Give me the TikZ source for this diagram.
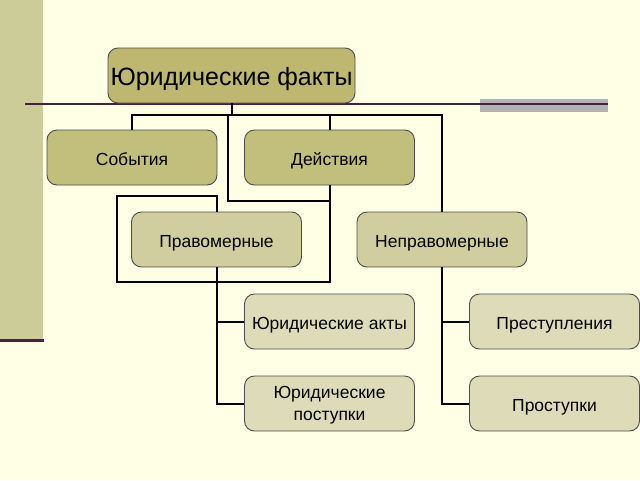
\documentclass[tikz,border=0pt]{standalone}
\usepackage{fontspec}
\setmainfont{Liberation Sans}
\definecolor{cream}{HTML}{FFFFE5}
\definecolor{sidebar}{HTML}{CCCC99}
\definecolor{plum}{HTML}{4A2040}
\definecolor{barGray}{HTML}{B3B3B6}
\definecolor{levelA}{HTML}{BDB76F}
\definecolor{levelB}{HTML}{C2BE7C}
\definecolor{levelC}{HTML}{D0CD9F}
\definecolor{levelD}{HTML}{DEDCB8}
\begin{document}
\begin{tikzpicture}[x=1pt, y=-1pt,
  box/.style={draw=black!70, line width=0.9pt, rounded corners=10pt, minimum width=170pt, minimum height=55pt, inner sep=2pt, align=center, font=\fontsize{17.5}{21.5}\selectfont},
  oneline/.style={text height=16.4pt, text depth=0pt},
  link/.style={line width=2pt, black}]

\useasboundingbox (0,0) rectangle (640,480);
\fill[cream] (0,0) rectangle (640,480);
\fill[sidebar] (0,0) rectangle (43,339);
\draw[plum, line width=3pt] (0,340) -- (44,340);
\fill[barGray] (480,99) rectangle (608,112);
\draw[plum, line width=1.3pt] (25,104) -- (608,104);

\begin{scope}
\node[box, fill=levelA, minimum width=247pt, font=\fontsize{25}{27}\selectfont, inner sep=1pt, text height=19.6pt, text depth=0pt] (facts) at (231.5,75.5) {Юридические факты};

\node[box, oneline, fill=levelB] (events) at (132,157.5) {События};
\node[box, oneline, fill=levelB] (actions) at (329.5,157.5) {Действия};

\node[box, oneline, fill=levelC] (lawful) at (216.5,239.5) {Правомерные};
\node[box, oneline, fill=levelC] (unlawful) at (442,239.5) {Неправомерные};

\node[box, oneline, fill=levelD] (acts) at (329.5,321.5) {Юридические акты};
\node[box, fill=levelD, text height=33pt, text depth=0pt] (deeds) at (329.5,403.5) {Юридические\\поступки};
\node[box, oneline, fill=levelD] (crimes) at (554.5,321.5) {Преступления};
\node[box, oneline, fill=levelD] (offences) at (554.5,403.5) {Проступки};

\coordinate (bus) at (231.5,115);
\coordinate (step) at (228,201);
\coordinate (loopBL) at (117,282);
\coordinate (loopTL) at (117,196);

\draw[link] (facts.south) -- (bus);
\draw[link] (events.north) |- (bus) -| (actions.north);
\draw[link] (bus) -| (unlawful.north);
\draw[link] (step |- bus) -- (step) -| (actions.south);
\draw[link] (actions.south) |- (loopBL) -- (loopTL) -| (lawful.north);

\draw[link] (lawful.south) |- (acts.west);
\draw[link] (lawful.south) |- (deeds.west);
\draw[link] (unlawful.south) |- (crimes.west);
\draw[link] (unlawful.south) |- (offences.west);
\end{scope}

\end{tikzpicture}
\end{document}
